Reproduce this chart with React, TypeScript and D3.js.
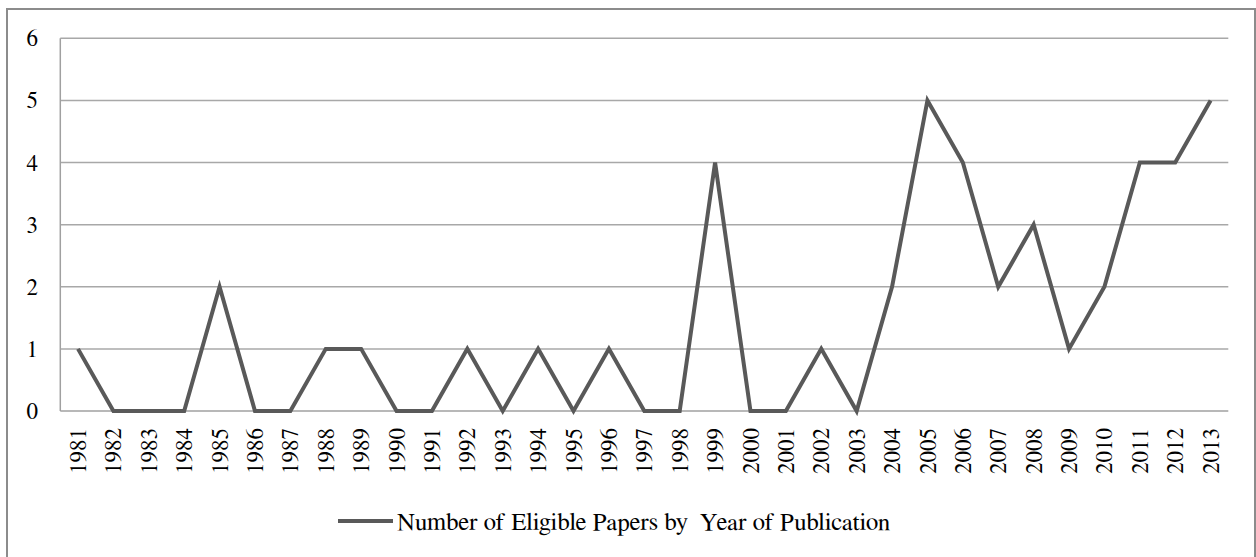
import React from "react";
import * as d3 from "d3";

const years: string[] = [
  "1981","1982","1983","1984","1985","1986","1987","1988","1989","1990","1991",
  "1992","1993","1994","1995","1996","1997","1998","1999","2000","2001","2002",
  "2003","2004","2005","2006","2007","2008","2009","2010","2011","2012","2013",
];
const papers: number[] = [
  1,0,0,0,2,0,0,1,1,0,0,
  1,0,1,0,1,0,0,4,0,0,1,
  0,2,5,4,2,3,1,2,4,4,5,
];
const yTicks: number[] = [0,1,2,3,4,5,6];
const seriesName = "Number of Eligible Papers by  Year of Publication";

const W = 1256;
const H = 557;
const plot = { left: 60.3, right: 1228.3, top: 38.3, bottom: 411 };
const FONT = '"FreeSerif"';

export default function App() {
  const x = d3.scaleBand<string>().domain(years).range([plot.left, plot.right]);
  const cx = (y: string) => (x(y) as number) + x.bandwidth() / 2;
  const y = d3.scaleLinear().domain([0, 6]).range([plot.bottom, plot.top]);
  const line = d3
    .line<number>()
    .x((_, i) => cx(years[i]))
    .y((d) => y(d));

  const ts: React.CSSProperties = { fontFamily: FONT };

  return (
    <svg width={W} height={H} style={{ position: "absolute", left: 0, top: 0, background: "#fff" }}>
      <rect x={7} y={9} width={1248} height={560} fill="#fff" stroke="#8c8c8c" strokeWidth={2} />
      {yTicks.map((t) => (
        <g key={t}>
          {t > 0 && (
            <line x1={plot.left} x2={plot.right} y1={y(t)} y2={y(t)} stroke="#a8a8a8" strokeWidth={1.5} />
          )}
          <text x={38} y={y(t)} dy="0.35em" textAnchor="end" fontSize={23} fill="#000" style={ts}>
            {t}
          </text>
        </g>
      ))}
      <line x1={plot.left} x2={plot.left} y1={plot.top} y2={plot.bottom} stroke="#a0a0a0" strokeWidth={1.5} />
      <line x1={plot.left} x2={plot.right} y1={plot.bottom} y2={plot.bottom} stroke="#a0a0a0" strokeWidth={1.5} />
      {years.map((yr) => (
        <text
          key={yr}
          transform={`translate(${cx(yr)},${plot.bottom + 17}) rotate(-90)`}
          dy="0.35em"
          textAnchor="end"
          fontSize={23}
          fill="#000"
          style={ts}
        >
          {yr}
        </text>
      ))}
      <path d={line(papers) || ""} fill="none" stroke="#595959" strokeWidth={4} strokeLinejoin="miter" />
      <line x1={338} x2={393} y1={521} y2={521} stroke="#595959" strokeWidth={4} />
      <text x={397} y={530} fontSize={24.75} fill="#000" style={{ ...ts, whiteSpace: "pre" }}>
        {seriesName}
      </text>
    </svg>
  );
}
